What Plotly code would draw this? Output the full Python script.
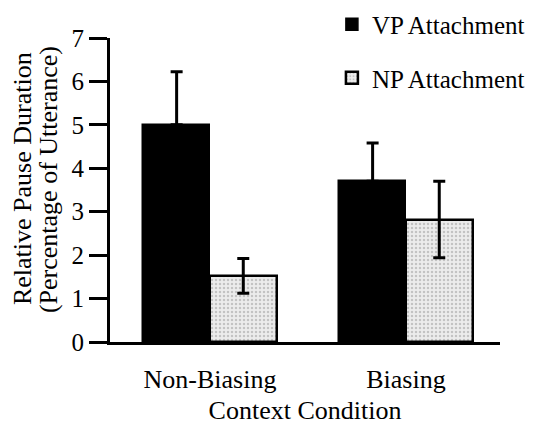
import plotly.graph_objects as go

categories = ["Non-Biasing", "Biasing"]
vp_values = [5.0, 3.7]
vp_err_plus = [1.22, 0.88]
np_values = [1.52, 2.82]
np_err = [0.4, 0.88]

x_pos = [0, 1]
bw = 0.34
FONT = "Liberation Serif"

fig = go.Figure()
fig.add_trace(go.Bar(
    x=[p - bw / 2 for p in x_pos], y=vp_values, width=bw, name="VP Attachment",
    marker=dict(color="black", line=dict(color="black", width=1.5)),
    error_y=dict(type="data", array=vp_err_plus, arrayminus=[0, 0], symmetric=False,
                 color="black", thickness=3, width=6),
    legendgroup="a",
))
fig.add_trace(go.Bar(
    x=[p + bw / 2 for p in x_pos], y=np_values, width=bw, name="NP Attachment",
    marker=dict(color="#e4e4e4", line=dict(color="black", width=2.5),
                pattern=dict(shape=".", fgcolor="#9a9a9a", bgcolor="#ececec", size=4, solidity=0.3)),
    error_y=dict(type="data", array=np_err, color="black", thickness=3, width=6),
    legendgroup="b",
))

fig.add_annotation(text="Relative Pause Duration", xref="paper", yref="paper",
                   x=-0.2256, y=0.536, textangle=-90, showarrow=False,
                   font=dict(size=26, family=FONT), xanchor="center", yanchor="middle")
fig.add_annotation(text="(Percentage of Utterance)", xref="paper", yref="paper",
                   x=-0.159, y=0.536, textangle=-90, showarrow=False,
                   font=dict(size=26, family=FONT), xanchor="center", yanchor="middle")

fig.update_layout(
    width=540, height=428,
    margin=dict(l=102, r=48, t=30, b=94, autoexpand=False),
    paper_bgcolor="white", plot_bgcolor="white",
    font=dict(family=FONT, size=26, color="black"),
    showlegend=True,
    legend=dict(x=0.569, xanchor="left", y=1.12, yanchor="top", bgcolor="rgba(0,0,0,0)",
                font=dict(size=25, family=FONT), tracegroupgap=18, itemwidth=30),
    bargap=0,
    xaxis=dict(range=[-0.51, 1.48], tickvals=x_pos, ticktext=categories, showline=True,
               linecolor="black", linewidth=3, ticks="", showgrid=False, zeroline=False,
               ticklabelstandoff=12,
               title=dict(text="Context Condition", font=dict(size=26, family=FONT), standoff=8),
               tickfont=dict(size=26, family=FONT)),
    yaxis=dict(range=[0, 7], dtick=1, showline=True, linecolor="black", linewidth=3,
               ticks="outside", ticklen=18, tickwidth=3, tickcolor="black", showgrid=False,
               zeroline=False, tickfont=dict(size=25, family=FONT)),
)

fig.write_html("out.html")
